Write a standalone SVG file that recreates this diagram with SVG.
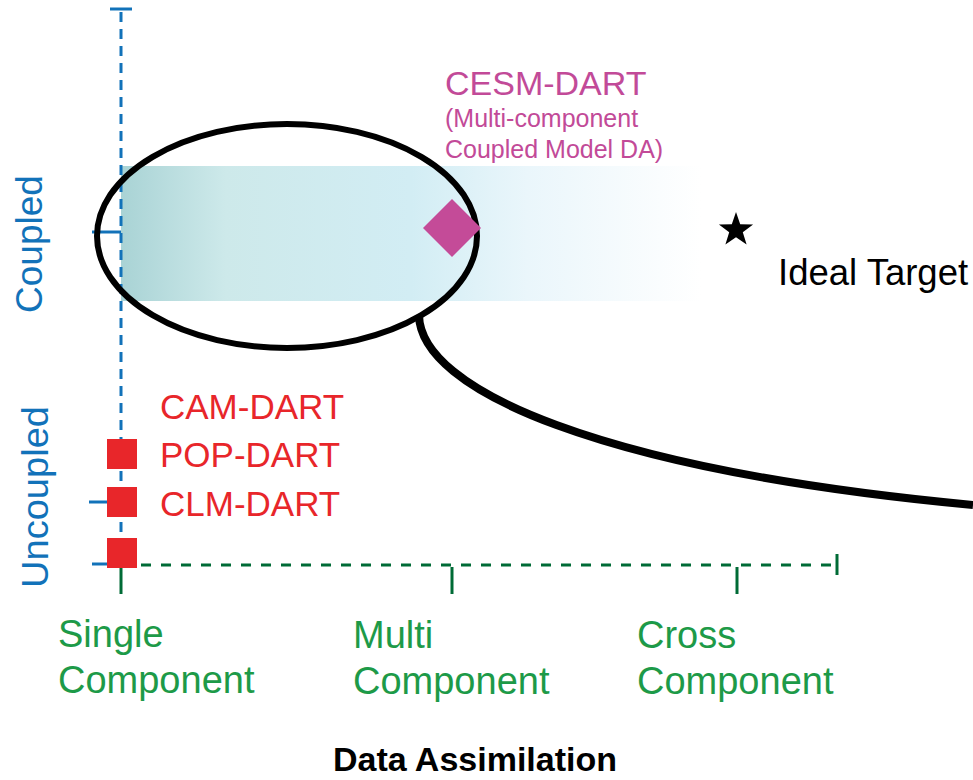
<svg xmlns="http://www.w3.org/2000/svg" width="973" height="780" viewBox="0 0 973 780">
<style>
.blue{stroke:#1272b9;stroke-width:3;fill:none}
.green{stroke:#006b36;stroke-width:3;fill:none}
.t{font-family:"Liberation Sans",Arial,sans-serif}
.red{fill:#e8262a;font-size:35px}
.gl{fill:#1d9a48;font-size:38px}
.mag{fill:#c24a98}
.ax{fill:#1272b9;font-size:37px}
</style>
<defs>
<linearGradient id="band" x1="0" y1="0" x2="1" y2="0">
<stop offset="0" stop-color="#a9d3d5"/>
<stop offset="0.18" stop-color="#cde9ea"/>
<stop offset="0.5" stop-color="#d2edf4"/>
<stop offset="0.7" stop-color="#eaf6fb"/>
<stop offset="1" stop-color="#ffffff"/>
</linearGradient>
</defs>
<rect id="band-rect" x="121" y="166" width="580" height="135" fill="url(#band)"/>
<g id="axes">
<line class="blue" x1="121" y1="12" x2="121" y2="565" stroke-dasharray="10 7"/>
<line class="blue" x1="110" y1="9" x2="132" y2="9"/>
<line class="blue" x1="92" y1="232" x2="121" y2="232"/>
<line class="blue" x1="89" y1="502" x2="121" y2="502"/>
<line class="blue" x1="92" y1="564" x2="121" y2="564"/>
<line class="green" x1="121" y1="565" x2="836" y2="565" stroke-dasharray="10 10"/>
<line class="green" x1="121" y1="565" x2="121" y2="594"/>
<line class="green" x1="452" y1="567" x2="452" y2="594"/>
<line class="green" x1="737" y1="567" x2="737" y2="594"/>
<line class="green" x1="837" y1="554" x2="837" y2="575"/>
</g>
<g id="connectors">
<path d="M419 315 C420 390 600 470 973 505" fill="none" stroke="#000" stroke-width="8"/>
</g>
<g id="ellipse">
<ellipse cx="287" cy="236" rx="190" ry="112" fill="none" stroke="#000" stroke-width="6"/>
</g>
<g id="cesm">
<polygon points="452,199 481,228 452,257 423,228" fill="#c44b98"/>
<text class="t mag" x="445" y="95" font-size="34">CESM-DART</text>
<text class="t mag" x="445" y="127" font-size="25">(Multi-component</text>
<text class="t mag" x="445" y="158" font-size="25">Coupled Model DA)</text>
</g>
<g id="ideal">
<polygon points="736,212 740.2,224.2 753.1,224.4 742.8,232.2 746.6,244.6 736,237.2 725.4,244.6 729.2,232.2 718.9,224.4 731.8,224.2" fill="#000"/>
<text class="t" x="778" y="285" font-size="36.5" fill="#000">Ideal Target</text>
</g>
<g id="uncoupled-models">
<rect x="107" y="439" width="30" height="30" fill="#e8262a"/>
<rect x="107" y="487" width="30" height="30" fill="#e8262a"/>
<rect x="107" y="538" width="30" height="30" fill="#e8262a"/>
<text class="t red" x="160" y="419">CAM-DART</text>
<text class="t red" x="160" y="467">POP-DART</text>
<text class="t red" x="160" y="516">CLM-DART</text>
</g>
<g id="y-labels">
<text class="t ax" transform="translate(42,313) rotate(-90)">Coupled</text>
<text class="t ax" transform="translate(48,588) rotate(-90)" textLength="182" lengthAdjust="spacingAndGlyphs">Uncoupled</text>
</g>
<g id="x-labels">
<text class="t gl" x="58" y="647">Single</text>
<text class="t gl" x="58" y="693">Component</text>
<text class="t gl" x="353" y="648">Multi</text>
<text class="t gl" x="353" y="694">Component</text>
<text class="t gl" x="637" y="648">Cross</text>
<text class="t gl" x="637" y="694">Component</text>
<text class="t" x="475" y="771" font-size="34" font-weight="bold" text-anchor="middle" fill="#000">Data Assimilation</text>
</g>
</svg>
